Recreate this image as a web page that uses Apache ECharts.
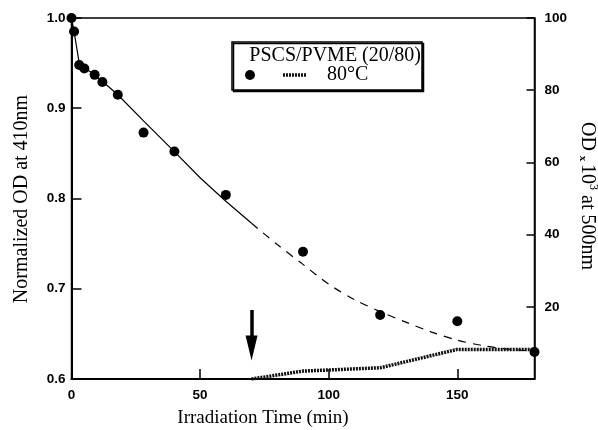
<!DOCTYPE html>
<html>
<head>
<meta charset="utf-8">
<script src="https://cdn.jsdelivr.net/npm/echarts@6/dist/echarts.min.js"></script>
<style>
html,body{margin:0;padding:0;background:#fff;}
#chart{width:598px;height:430px;}
</style>
</head>
<body>
<div id="chart"></div>
<script>
// Measured data: normalized OD at 410 nm
const timeMin = [0, 1, 3, 5, 9, 12, 18, 28, 40, 60, 90, 120, 150, 180];
const normOD = [1.0, 0.985, 0.948, 0.944, 0.937, 0.929, 0.915, 0.873, 0.852, 0.804, 0.741, 0.671, 0.664, 0.630];
// Fitted curve (solid part, dashed part)
const fitTimeSolid = [0, 1, 3, 5, 9, 12, 18, 28, 40, 50, 60, 70];
const fitSolid = [1.0, 0.985, 0.950, 0.945, 0.937, 0.930, 0.915, 0.886, 0.852, 0.823, 0.797, 0.7725];
const fitTimeDashed = [70, 80, 90, 100, 110, 120, 130, 140, 150, 160, 170, 180];
const fitDashed = [0.7725, 0.749, 0.727, 0.705, 0.688, 0.6746, 0.663, 0.652, 0.643, 0.637, 0.633, 0.631];
// OD x 10^3 at 500 nm
const odTime = [70, 90, 120, 150, 180];
const od500 = [0, 2.2, 3.1, 8.2, 8.2];
// Arrow annotation (time, shaft top, shaft bottom, head centre) in left-axis units
const arrowTime = 70;
const arrowFrom = 0.6765;
const arrowShaftEnd = 0.645;
const arrowHead = 0.6344;
// Tick labels
const xTicks = [0, 50, 100, 150];
const yLeftTicks = [0.6, 0.7, 0.8, 0.9, 1.0];
const yRightTicks = [20, 40, 60, 80, 100];

const zip = (a, b) => a.map((v, i) => [v, b[i]]);
const tickFont = {color: '#000', fontFamily: 'Liberation Sans', fontSize: 13.5, fontWeight: 'bold'};
const serif = 'Liberation Serif';

const chart = echarts.init(document.getElementById('chart'), null, {renderer: 'canvas'});
chart.setOption({
  backgroundColor: '#fff',
  animation: false,
  grid: {left: 71.5, right: 63.5, top: 18, bottom: 51, show: true, borderColor: '#000', borderWidth: 1.5, backgroundColor: 'transparent'},
  xAxis: {
    type: 'value', min: 0, max: 180, interval: 50,
    axisLine: {show: true, lineStyle: {color: '#000', width: 2}},
    axisTick: {show: true, inside: true, length: 10, lineStyle: {color: '#000', width: 1.5}},
    axisLabel: Object.assign({margin: 9, showMaxLabel: false,
      formatter: v => xTicks.includes(v) ? String(v) : ''}, tickFont),
    splitLine: {show: false}
  },
  yAxis: [{
    type: 'value', min: 0.6, max: 1.0, interval: 0.1,
    axisLine: {show: true, lineStyle: {color: '#000', width: 2}},
    axisTick: {show: true, inside: true, length: 10, lineStyle: {color: '#000', width: 1.5}},
    axisLabel: Object.assign({margin: 6,
      formatter: v => { const t = yLeftTicks.find(k => Math.abs(k - v) < 1e-6); return t !== undefined ? t.toFixed(1) : ''; }}, tickFont),
    splitLine: {show: false}
  }, {
    type: 'value', min: 0, max: 100, interval: 20, position: 'right',
    axisLine: {show: true, lineStyle: {color: '#000', width: 1.5}},
    axisTick: {show: true, inside: true, length: 8, lineStyle: {color: '#000', width: 1.5}},
    axisLabel: Object.assign({margin: 10,
      formatter: v => yRightTicks.includes(v) ? String(v) : ''}, tickFont),
    splitLine: {show: false}
  }],
  series: [{
    type: 'line', name: 'fitSolid', data: zip(fitTimeSolid, fitSolid), yAxisIndex: 0,
    symbol: 'none', lineStyle: {color: '#000', width: 1.2}, z: 2
  }, {
    type: 'line', name: 'fitDashed', data: zip(fitTimeDashed, fitDashed), yAxisIndex: 0, smooth: 0.3,
    symbol: 'none', lineStyle: {color: '#000', width: 1.2, type: [8, 7]}, z: 2
  }, {
    type: 'line', name: 'OD500', data: zip(odTime, od500), yAxisIndex: 1,
    symbol: 'none', lineStyle: {color: '#111', width: 3.5, type: [2, 1]}, z: 3
  }, {
    type: 'scatter', name: '80°C', data: zip(timeMin, normOD), yAxisIndex: 0,
    symbol: 'circle', symbolSize: 10, itemStyle: {color: '#000', opacity: 1}, z: 5,
    markLine: {
      silent: true, symbol: ['none', 'none'],
      label: {show: false},
      lineStyle: {color: '#000', width: 3.5, type: 'solid', opacity: 1},
      data: [[{coord: [arrowTime, arrowFrom]}, {coord: [arrowTime, arrowShaftEnd]}]]
    },
    markPoint: {
      silent: true,
      symbol: 'triangle', symbolRotate: 180, symbolSize: [12, 25],
      label: {show: false},
      itemStyle: {color: '#000', opacity: 1},
      data: [{coord: [arrowTime, arrowHead]}]
    }
  }],
  graphic: [
    {type: 'rect', shape: {x: 232, y: 42, width: 190, height: 48}, style: {fill: '#fff', stroke: '#000', lineWidth: 1.5, shadowColor: '#000', shadowOffsetX: 1.5, shadowOffsetY: 1.5, shadowBlur: 0}, z: 10},
    {type: 'text', x: 421, y: 56, style: {text: 'PSCS/PVME (20/80)', font: '20px ' + serif, fill: '#000', textAlign: 'right', textVerticalAlign: 'middle'}, z: 11},
    {type: 'circle', shape: {cx: 250, cy: 75, r: 5}, style: {fill: '#000'}, z: 11},
    {type: 'line', shape: {x1: 283, y1: 75, x2: 307, y2: 75}, style: {stroke: '#111', lineWidth: 3.5, lineDash: [2, 1]}, z: 11},
    {type: 'text', x: 327, y: 75, style: {text: '80°C', font: '20px ' + serif, fill: '#000', textAlign: 'left', textVerticalAlign: 'middle'}, z: 11},
    {type: 'text', x: 263, y: 418, style: {text: 'Irradiation Time (min)', font: '19px ' + serif, fill: '#000', textAlign: 'center', textVerticalAlign: 'middle'}},
    {type: 'text', x: 22, y: 199, rotation: Math.PI / 2, style: {text: 'Normalized OD at 410nm', font: '20px ' + serif, fill: '#000', textAlign: 'center', textVerticalAlign: 'middle'}},
    {type: 'text', x: 588, y: 196, rotation: -Math.PI / 2, style: {
      text: '{a|OD }{s|x }{a|10}{sup|3}{a| at 500nm}', textAlign: 'center', textVerticalAlign: 'middle',
      rich: {
        a: {font: '20px ' + serif, fill: '#000', lineHeight: 22, verticalAlign: 'bottom'},
        s: {font: 'bold 11px ' + serif, fill: '#000', lineHeight: 22, verticalAlign: 'bottom'},
        sup: {font: '12px ' + serif, fill: '#000', lineHeight: 12, verticalAlign: 'top'}
      }}}
  ]
});
</script>
</body>
</html>
